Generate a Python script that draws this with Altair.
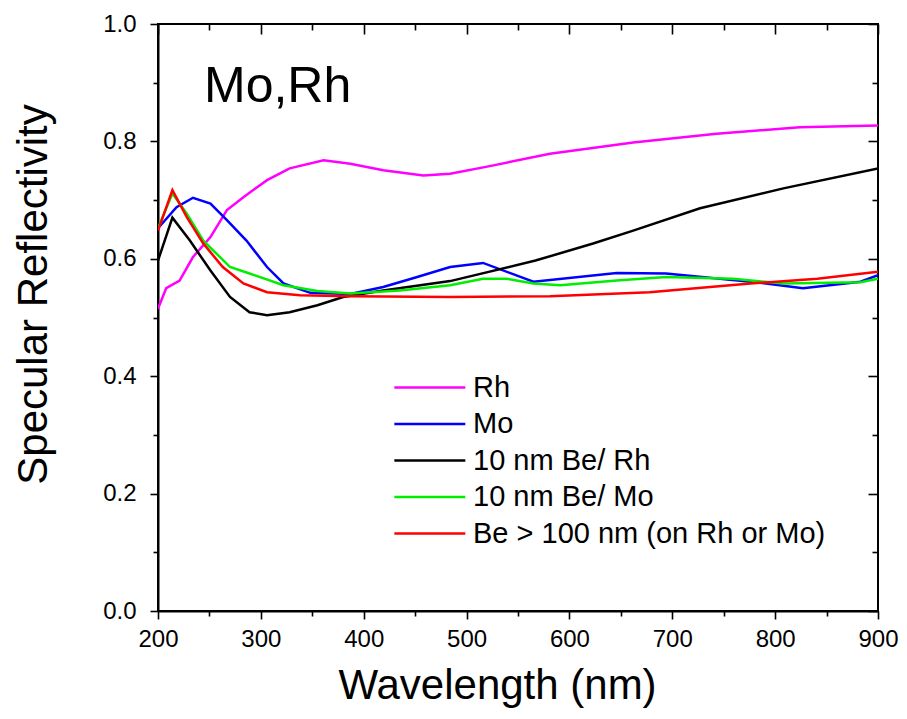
import altair as alt
import pandas as pd

# ---- data ----
rh_x = [200, 208, 221, 234, 251, 267, 283, 306, 328, 361, 387, 419, 458, 484, 520, 581, 662, 743, 824, 900]
rh_y = [0.515, 0.550, 0.563, 0.603, 0.637, 0.683, 0.705, 0.734, 0.754, 0.768, 0.762, 0.751, 0.742, 0.745,
        0.757, 0.779, 0.798, 0.813, 0.824, 0.827]

mo_x = [200, 218, 234, 251, 267, 286, 306, 322, 348, 387, 419, 452, 484, 516, 565, 646, 694, 776, 827, 883, 900]
mo_y = [0.652, 0.688, 0.704, 0.694, 0.666, 0.631, 0.586, 0.558, 0.542, 0.540, 0.552, 0.569, 0.586, 0.593,
        0.561, 0.576, 0.575, 0.561, 0.550, 0.561, 0.572]

berh_x = [200, 214, 231, 251, 270, 289, 306, 328, 355, 380, 419, 484, 567, 623, 662, 727, 808, 900]
berh_y = [0.597, 0.670, 0.631, 0.580, 0.535, 0.509, 0.504, 0.509, 0.521, 0.535, 0.546, 0.562, 0.597, 0.626,
          0.648, 0.686, 0.720, 0.754]

bemo_x = [200, 214, 228, 244, 270, 289, 322, 355, 387, 435, 484, 516, 539, 565, 591, 646, 694, 759, 808, 883, 900]
bemo_y = [0.652, 0.711, 0.677, 0.631, 0.586, 0.575, 0.555, 0.545, 0.541, 0.546, 0.555, 0.566, 0.566, 0.558,
          0.555, 0.563, 0.569, 0.566, 0.558, 0.560, 0.566]

be_x = [200, 214, 228, 244, 263, 283, 306, 338, 387, 484, 581, 678, 776, 841, 900]
be_y = [0.648, 0.717, 0.671, 0.626, 0.586, 0.558, 0.543, 0.538, 0.536, 0.535, 0.536, 0.543, 0.558, 0.566, 0.578]

names = ["Rh", "Mo", "10 nm Be/ Rh", "10 nm Be/ Mo", "Be > 100 nm (on Rh or Mo)"]
colors = ["#FF00FF", "#0000FF", "#000000", "#00EE00", "#FF0000"]

x_major = [200, 300, 400, 500, 600, 700, 800, 900]
x_minor = [250, 350, 450, 550, 650, 750, 850]
y_major = [0.0, 0.2, 0.4, 0.6, 0.8, 1.0]
y_minor = [0.1, 0.3, 0.5, 0.7, 0.9]

series = [(names[0], rh_x, rh_y), (names[1], mo_x, mo_y), (names[2], berh_x, berh_y),
          (names[3], bemo_x, bemo_y), (names[4], be_x, be_y)]
rows = []
for name, xs, ys in series:
    for i, (xv, yv) in enumerate(zip(xs, ys)):
        rows.append({"series": name, "wavelength": xv, "reflectivity": yv, "idx": i})
df = pd.DataFrame(rows)

W, H = 720, 587
FONT = "Liberation Sans"
xscale = alt.Scale(domain=[200, 900], nice=False, zero=False)
yscale = alt.Scale(domain=[0, 1], nice=False)

base = alt.Chart(df)

lines = base.mark_line(strokeWidth=2.5, clip=True).encode(
    x=alt.X("wavelength:Q", scale=xscale,
            axis=alt.Axis(orient="bottom", values=x_major, tickSize=8, labelPadding=8,
                          labelFlush=False,
                          title="Wavelength (nm)", titleFontSize=42, titlePadding=14,
                          titleX=339, titleFontWeight="normal")),
    y=alt.Y("reflectivity:Q", scale=yscale,
            axis=alt.Axis(orient="left", values=y_major, format=".1f", tickSize=8, labelPadding=14,
                          labelFlush=False,
                          title="Specular Reflectivity", titleFontSize=42, titleX=-103, titleY=270,
                          titleBaseline="bottom", titleFontWeight="normal")),
    color=alt.Color("series:N", scale=alt.Scale(domain=names, range=colors),
                    legend=alt.Legend(orient="none", legendX=281, legendY=349, title=None,
                                      symbolType="M-5,0H1", symbolSize=560, symbolStrokeWidth=2.5,
                                      symbolFillColor="transparent",
                                      labelFontSize=29, labelFont=FONT, labelOffset=5, labelLimit=600,
                                      rowPadding=6.5, padding=0, labelColor="black")),
    order="idx:Q",
)


def axis_layer(xaxis, yaxis):
    return base.mark_line(opacity=0).encode(
        x=alt.X("wavelength:Q", scale=xscale, axis=xaxis),
        y=alt.Y("reflectivity:Q", scale=yscale, axis=yaxis),
        detail="series:N",
    )


def tick_axis(orient, values, size, offset=0):
    return alt.Axis(orient=orient, values=values, tickSize=size, labels=False, domain=False,
                    title=None, grid=False, offset=offset)


minor_bl = axis_layer(tick_axis("bottom", x_minor, 5), tick_axis("left", y_minor, 5))
major_tr = axis_layer(tick_axis("bottom", x_major, 10, -H), tick_axis("left", y_major, 10, -W))
minor_tr = axis_layer(tick_axis("bottom", x_minor, 6, -H), tick_axis("left", y_minor, 6, -W))

label = alt.Chart(pd.DataFrame({"t": ["Mo,Rh"]})).mark_text(
    align="left", baseline="alphabetic", fontSize=50, font=FONT, color="black"
).encode(text="t:N", x=alt.value(46), y=alt.value(78))

chart = alt.layer(lines, minor_bl, major_tr, minor_tr, label).resolve_axis(
    x="independent", y="independent"
).properties(
    width=W, height=H,
    autosize=alt.AutoSizeParams(type="none"),
    padding={"left": 150, "top": 16, "right": 20, "bottom": 100},
).configure_axis(
    labelFont=FONT, titleFont=FONT, labelFontSize=24, labelColor="black", titleColor="black",
    tickColor="black", tickWidth=1.6, domainColor="black", domainWidth=2, grid=False,
).configure_view(
    stroke="black", strokeWidth=2
)

chart.save("out.html", embed_options={"renderer": "svg", "actions": False})
